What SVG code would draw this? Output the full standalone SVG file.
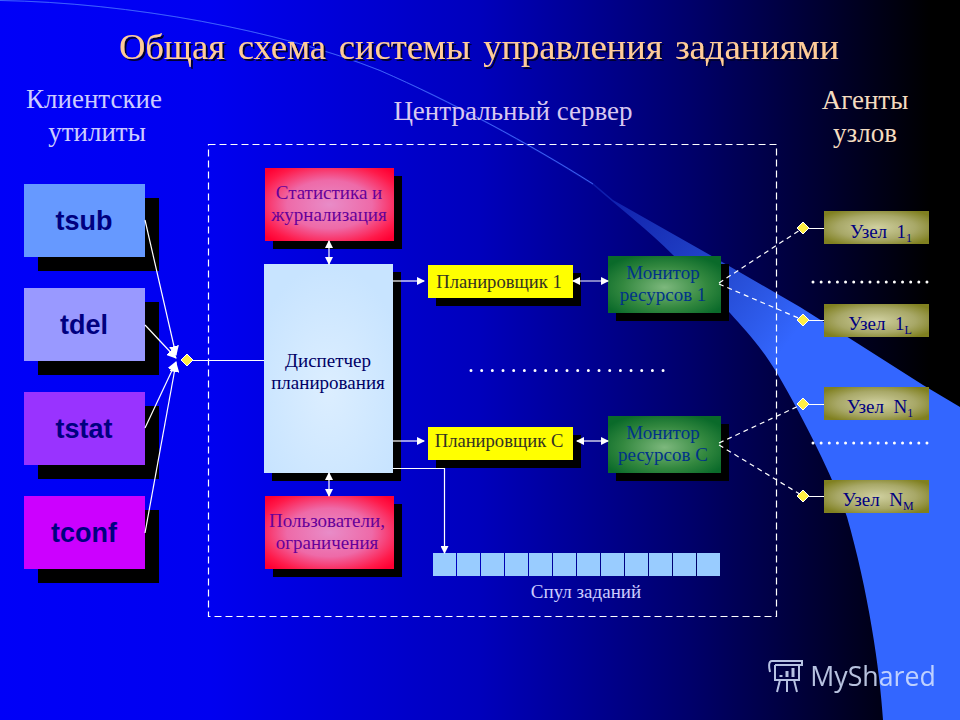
<svg xmlns="http://www.w3.org/2000/svg" width="960" height="720" viewBox="0 0 960 720">
<defs>
<linearGradient id="bg" x1="0" y1="0" x2="1" y2="0">
<stop offset="0" stop-color="#0000f8"/><stop offset="0.22" stop-color="#0000f0"/><stop offset="0.5" stop-color="#0000bc"/><stop offset="0.72" stop-color="#00006a"/><stop offset="0.97" stop-color="#000000"/>
</linearGradient>
<linearGradient id="beam" gradientUnits="userSpaceOnUse" x1="590" y1="190" x2="790" y2="340">
<stop offset="0" stop-color="#3366ff" stop-opacity="0.25"/><stop offset="1" stop-color="#3366ff"/>
</linearGradient>
<radialGradient id="red" cx="0.5" cy="0.5" r="0.66"><stop offset="0" stop-color="#e88cc8"/><stop offset="0.5" stop-color="#ee6aa8"/><stop offset="0.85" stop-color="#ff1a4a"/><stop offset="1" stop-color="#ff0033"/></radialGradient>
<radialGradient id="green" cx="0.5" cy="0.55" r="0.62"><stop offset="0" stop-color="#7db87d"/><stop offset="0.6" stop-color="#33883f"/><stop offset="1" stop-color="#0a6a2a"/></radialGradient>
<radialGradient id="olive" cx="0.5" cy="0.5" r="0.62"><stop offset="0" stop-color="#d0d0a0"/><stop offset="0.6" stop-color="#a8a868"/><stop offset="1" stop-color="#808020"/></radialGradient>
<radialGradient id="pale" cx="0.5" cy="0.6" r="0.6"><stop offset="0" stop-color="#dceeff"/><stop offset="1" stop-color="#c8e4ff"/></radialGradient>
<filter id="ts" x="-5%" y="-20%" width="110%" height="140%"><feDropShadow dx="2" dy="2" stdDeviation="0.6" flood-color="#000033"/></filter>
<marker id="ah" markerWidth="8" markerHeight="8" refX="7" refY="4" orient="auto-start-reverse" markerUnits="userSpaceOnUse"><path d="M0,0 L8,4 L0,8 Z" fill="#fff"/></marker>
<marker id="ahb" markerWidth="10" markerHeight="10" refX="9" refY="5" orient="auto" markerUnits="userSpaceOnUse"><path d="M0,0 L10,5 L0,10 Z" fill="#fff"/></marker>
<path id="dia" d="M0,-6 L6,0 L0,6 L-6,0 Z" fill="#ffee44" stroke="#fff" stroke-width="1"/>
</defs>
<style>
text{font-family:"Liberation Serif",serif;text-anchor:middle;white-space:pre}
.sh{fill:#000}
.big{font-size:27px}
.lab{font-size:19px}
.pl{font-size:18.6px}
.cli{font-family:"Liberation Sans",sans-serif;font-weight:bold;font-size:27px;fill:#000080}
.node{font-size:19px;fill:#000080}
.sub{font-size:12px}
.ln{fill:none;stroke:#fff;stroke-width:1.2}
.da{fill:none;stroke:#fff;stroke-width:1.2;stroke-dasharray:5 4}
.dots{fill:none;stroke:#fff;stroke-width:3;stroke-linecap:round}
</style>
<rect width="960" height="720" fill="url(#bg)"/>
<path d="M0,0 C130,2 280,30 380,70 C450,100 530,143 593,183 L613,200 L710,255 L800,307 L857,343 L923,385 L960,407 L960,720 L883,720 C880,670 868,590 847,517 C835,483 810,430 777,373 C760,345 745,330 730,313 C712,293 690,270 673,255 C650,232 620,208 593,185 C530,145 450,102 380,71 C280,31 130,3 0,1 Z" fill="url(#beam)"/>
<path d="M0,0.5 C130,2.5 280,30.5 380,70.5 C450,101 530,144 593,184" fill="none" stroke="#4a70ff" stroke-width="0.8"/>

<g id="title"><text x="479" y="59" font-size="36.5" word-spacing="-2.75" fill="#ffcc99" filter="url(#ts)">Общая  схема  системы  управления  заданиями</text></g>
<g id="headers">
<text class="big" x="94" y="108" fill="#ccccff">Клиентские</text><text class="big" x="97" y="141" fill="#ccccff">утилиты</text>
<text class="big" x="513" y="120" fill="#d8c8f0">Центральный сервер</text>
<text class="big" x="865" y="109" fill="#f4dcc0">Агенты</text><text class="big" x="865" y="142" fill="#f4dcc0">узлов</text>
</g>
<rect id="server-boundary" x="208.5" y="144.5" width="568" height="472" fill="none" stroke="#fff" stroke-width="1.2" stroke-dasharray="7 4"/>

<g id="tsub"><rect class="sh" x="38" y="198" width="121" height="73"/><rect x="24" y="184" width="121" height="73" fill="#6699ff"/><text class="cli" x="84" y="230">tsub</text></g>
<g id="tdel"><rect class="sh" x="38" y="302" width="121" height="73"/><rect x="24" y="288" width="121" height="73" fill="#9999ff"/><text class="cli" x="84" y="334">tdel</text></g>
<g id="tstat"><rect class="sh" x="38" y="406" width="121" height="73"/><rect x="24" y="392" width="121" height="73" fill="#9933ff"/><text class="cli" x="84" y="438">tstat</text></g>
<g id="tconf"><rect class="sh" x="38" y="510" width="121" height="73"/><rect x="24" y="496" width="121" height="73" fill="#cc00ff"/><text class="cli" x="84" y="542">tconf</text></g>

<g id="stats"><rect class="sh" x="273" y="176" width="129" height="73"/><rect x="265" y="168" width="129" height="73" fill="url(#red)"/><text class="lab" x="329" y="199" fill="#660099">Статистика и</text><text class="lab" x="329" y="221" fill="#660099">журнализация</text></g>
<g id="dispatcher"><rect class="sh" x="272" y="272" width="129" height="209"/><rect x="264" y="264" width="129" height="209" fill="url(#pale)"/><text class="lab" x="328" y="367" fill="#000066">Диспетчер</text><text class="lab" x="328" y="389" fill="#000066">планирования</text></g>
<g id="users"><rect class="sh" x="273" y="504" width="129" height="73"/><rect x="265" y="496" width="129" height="73" fill="url(#red)"/><text class="lab" x="327" y="527" fill="#660099">Пользователи,</text><text class="lab" x="327" y="549" fill="#660099">ограничения</text></g>
<g id="planner1"><rect class="sh" x="436" y="273" width="145" height="33"/><rect x="428" y="265" width="145" height="33" fill="#ffff00"/><text class="pl" x="499" y="288" fill="#333322">Планировщик 1</text></g>
<g id="plannerC"><rect class="sh" x="436" y="435" width="145" height="33"/><rect x="428" y="427" width="145" height="33" fill="#ffff00"/><text class="pl" x="499" y="447" fill="#333322">Планировщик С</text></g>
<g id="monitor1"><rect class="sh" x="616" y="264" width="113" height="57"/><rect x="608" y="256" width="113" height="57" fill="url(#green)"/><text class="lab" x="663" y="279" fill="#003388">Монитор</text><text class="lab" x="663" y="301" fill="#003388">ресурсов 1</text></g>
<g id="monitorC"><rect class="sh" x="616" y="424" width="113" height="57"/><rect x="608" y="416" width="113" height="57" fill="url(#green)"/><text class="lab" x="663" y="439" fill="#003388">Монитор</text><text class="lab" x="663" y="461" fill="#003388">ресурсов С</text></g>

<g id="spool" fill="#99ccff">
<rect x="433" y="553" width="23" height="23"/><rect x="457" y="553" width="23" height="23"/><rect x="481" y="553" width="23" height="23"/><rect x="505" y="553" width="23" height="23"/><rect x="529" y="553" width="23" height="23"/><rect x="553" y="553" width="23" height="23"/><rect x="577" y="553" width="23" height="23"/><rect x="601" y="553" width="23" height="23"/><rect x="625" y="553" width="23" height="23"/><rect x="649" y="553" width="23" height="23"/><rect x="673" y="553" width="23" height="23"/><rect x="697" y="553" width="23" height="23"/>
<text class="lab" x="586" y="598" fill="#ccccff">Спул заданий</text>
</g>

<g id="connectors">
<path class="ln" marker-end="url(#ahb)" d="M145,220 L176,355"/>
<path class="ln" marker-end="url(#ahb)" d="M145,325 L176,358"/>
<path class="ln" marker-end="url(#ahb)" d="M145,428 L176,362"/>
<path class="ln" marker-end="url(#ahb)" d="M145,533 L176,363"/>
<path class="ln" d="M193,360.5 H264"/>
<path class="ln" marker-start="url(#ah)" marker-end="url(#ah)" d="M329,241 V264"/>
<path class="ln" marker-start="url(#ah)" marker-end="url(#ah)" d="M329,473 V496"/>
<path class="ln" marker-end="url(#ah)" d="M393,281 H424"/>
<path class="ln" marker-end="url(#ah)" d="M393,441 H424"/>
<path class="ln" marker-start="url(#ah)" marker-end="url(#ah)" d="M573,281 H608"/>
<path class="ln" marker-start="url(#ah)" marker-end="url(#ah)" d="M577,441 H608"/>
<path class="ln" marker-end="url(#ah)" d="M393,468.5 H444.5 V553"/>
<path class="da" d="M719,283 L803,228"/>
<path class="da" d="M719,284 L803,320"/>
<path class="da" d="M719,443 L803,404"/>
<path class="da" d="M719,445 L803,496"/>
<path class="ln" d="M809,228.5 H824 M809,320.5 H824 M809,404.5 H824 M809,496.5 H824"/>
</g>

<g id="hub"><use href="#dia" x="187" y="360"/></g>
<g id="node-1-1"><use href="#dia" x="803" y="228"/><rect x="824" y="211" width="105" height="33" fill="url(#olive)"/><text class="node" x="881" y="238">Узел  1<tspan class="sub" dy="4">1</tspan></text></g>
<g id="node-1-L"><use href="#dia" x="803" y="320"/><rect x="824" y="304" width="105" height="33" fill="url(#olive)"/><text class="node" x="880" y="330">Узел  1<tspan class="sub" dy="4">L</tspan></text></g>
<g id="node-N-1"><use href="#dia" x="803" y="404"/><rect x="824" y="387" width="105" height="33" fill="url(#olive)"/><text class="node" x="880" y="413">Узел  N<tspan class="sub" dy="4">1</tspan></text></g>
<g id="node-N-M"><use href="#dia" x="803" y="496"/><rect x="824" y="480" width="105" height="33" fill="url(#olive)"/><text class="node" x="878" y="506">Узел  N<tspan class="sub" dy="4">M</tspan></text></g>

<path class="dots" stroke-dasharray="0 8.14" d="M813,282 H928"/>
<path class="dots" stroke-dasharray="0 8.14" d="M813,443 H928"/>
<path class="dots" stroke-dasharray="0 10.67" d="M471,370.5 H665"/>

<g id="watermark" fill="none" stroke="#d8e4ff" stroke-width="2" opacity="0.85">
<path d="M772,661 C768,661 769,668 770,672 M772,661 H802 V665 H775 M775,665 V680 H799 V665 M780,680 L777,692 M787,680 V692 M794,680 L797,692"/>
<path d="M781,677 V675 M787,677 V671 M793,677 V668" stroke-width="3"/>
<text x="873" y="686" font-size="26.7" fill="#d8e4ff" stroke="none" style="font-family:'Open Sans',sans-serif">MyShared</text>
</g>
</svg>
